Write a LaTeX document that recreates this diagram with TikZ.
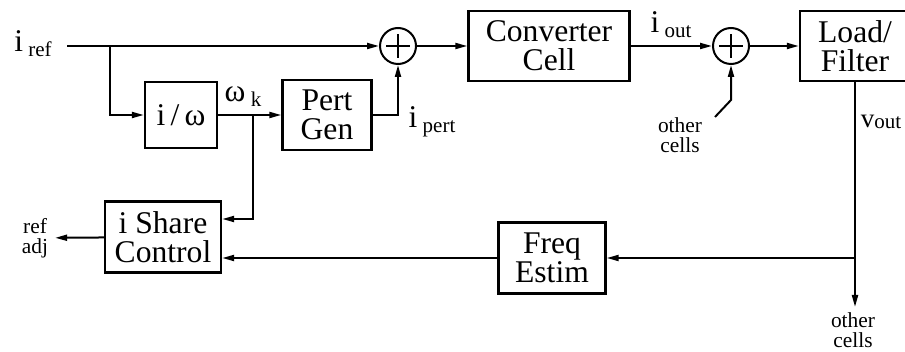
\documentclass[tikz,border=0pt]{standalone}
\usepackage{fontspec}
\setmainfont{Liberation Serif}
\usepackage{tikz}
\usetikzlibrary{arrows.meta, positioning}
\newcommand{\lowsub}[1]{\,\raisebox{-0.35ex}{\fontsize{10.5}{10.5}\selectfont #1}}

\begin{document}
\begin{tikzpicture}[x=0.5pt, y=-0.5pt, >={Triangle[length=6pt, width=3pt]},
    block/.style={draw, line width=1.2pt, align=center, inner sep=0pt,
        font=\fontsize{15.8}{14.5}\selectfont},
    sum/.style={draw, circle, line width=1pt, minimum size=18pt, inner sep=0pt,
        path picture={\draw[line width=1.1pt]
            ([xshift=-6pt]path picture bounding box.center) -- ([xshift=6pt]path picture bounding box.center)
            ([yshift=-6pt]path picture bounding box.center) -- ([yshift=6pt]path picture bounding box.center);}},
    sig/.style={->, line width=1pt},
    big/.style={font=\fontsize{15.8}{16}\selectfont, inner sep=0pt},
    small/.style={font=\fontsize{10.7}{10}\selectfont, align=center}]

    \useasboundingbox (0,0) rectangle (905,352);

    % =================================================================
    % 1. BLOCKS
    % =================================================================
    \node[block, minimum width=36pt, minimum height=33pt] (iw) at (181,115) {i\,/\,ω};
    \node[block, minimum width=44.5pt, minimum height=35pt] (pert) at (327,115) {Pert\\Gen};
    \node[sum] (sum1) at (398,46) {};
    \node[block, minimum width=80.5pt, minimum height=35pt] (conv) at (549,46) {Converter\\Cell};
    \node[sum] (sum2) at (731,46) {};
    \node[block, minimum width=55pt, minimum height=35pt] (load) at (855,46) {Load/\\Filter};
    \node[block, minimum width=53.5pt, minimum height=35.5pt] (freq) at (552,258) {Freq\\Estim};
    \node[block, minimum width=58pt, minimum height=35.5pt] (ishare) at (163,237) {i Share\\Control};

    % =================================================================
    % 2. LABELS
    % =================================================================
    \node[big] (iref) at (33,44) {i\lowsub{ref}};
    \node[big] (wk) at (243,97) {ω\lowsub{k}};
    \node[big] (ipert) at (432,122) {i\lowsub{pert}};
    \node[big] (iout) at (671,25) {i\lowsub{out}};
    \node[big] (vout) at (881,122) {\fontsize{13.5}{14}\selectfont v\raisebox{-0.1ex}{\fontsize{10.5}{10.5}\selectfont out}};
    \node[small] (oc1) at (680,135) {other\\cells};
    \node[small] (oc2) at (853,330) {other\\cells};
    \node[small] (refadj) at (35,238) {ref\\adj};

    % =================================================================
    % 3. CONNECTORS
    % =================================================================
    \coordinate (start) at (67,46);
    \coordinate (split) at (110,46);
    \coordinate (wsplit) at (253,115);
    \coordinate (ocin) at (715,117);
    \coordinate (tap) at (855,258);
    \coordinate (ocout) at (855,307);

    \draw[sig] (start) -- (sum1);
    \draw[sig] (split) |- (iw);
    \draw[sig] (iw) -- (pert);
    \draw[sig] (pert) -| (sum1);
    \draw[sig] (sum1) -- (conv);
    \draw[sig] (conv) -- (sum2);
    \draw[sig] (sum2) -- (load);
    \draw[sig] (ocin) -- ++(16,-17) -- (sum2.south);
    \draw[sig] (wsplit) |- ([yshift=9pt]ishare.east);
    \draw[line width=1pt] (load.south -| tap) -- (tap);
    \draw[sig] (tap) -- (freq);
    \draw[sig] (tap) -- (ocout);
    \draw[sig] (freq.west) -- (freq.west -| ishare.east);
    \draw[sig] (ishare) -- (refadj);

\end{tikzpicture}
\end{document}
